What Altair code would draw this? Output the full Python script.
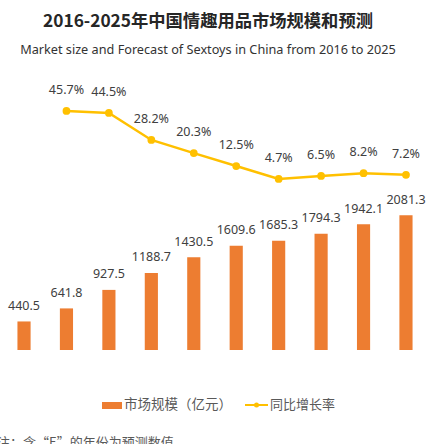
import altair as alt
import pandas as pd

# Market size (100 million yuan) and year-on-year growth (%)
years = ["2016", "2017", "2018", "2019", "2020", "2021", "2022", "2023E", "2024E", "2025E"]
market_size = [440.5, 641.8, 927.5, 1188.7, 1430.5, 1609.6, 1685.3, 1794.3, 1942.1, 2081.3]
growth_years = ["2017", "2018", "2019", "2020", "2021", "2022", "2023E", "2024E", "2025E"]
growth_rate = [45.7, 44.5, 28.2, 20.3, 12.5, 4.7, 6.5, 8.2, 7.2]

title_cn = "2016-2025年中国情趣用品市场规模和预测"
title_en = "Market size and Forecast of Sextoys in China from 2016 to 2025"
legend_bar = "市场规模（亿元）"
legend_line = "同比增长率"
footnote = "注：含“E”的年份为预测数值"

ORANGE = "#ED7D31"
GOLD = "#FFC000"
LABEL = "#595959"
CJK = "Noto Sans CJK SC"
LATIN = "Noto Sans"

bars_df = pd.DataFrame({
    "year": years,
    "size": market_size,
    "label": [f"{v:.1f}" for v in market_size],
})
line_df = pd.DataFrame({
    "year": growth_years,
    "rate": growth_rate,
    "label": [f"{v:.1f}%" for v in growth_rate],
})

x_scale = alt.Scale(domain=years, range=[2.8, 427.2], paddingInner=0.69, paddingOuter=0.345)
x_axis = alt.Axis(
    title=None, labelAngle=0, ticks=False, grid=False,
    domainColor="#D9D9D9", domainWidth=1,
    labelColor=LABEL, labelFont=LATIN, labelFontSize=12.5, labelPadding=14,
)
x_main = alt.X("year:N", scale=x_scale, sort=years, axis=x_axis)
x_plain = alt.X("year:N", scale=x_scale, sort=years, axis=None)

y_size = alt.Y("size:Q", scale=alt.Scale(domain=[0, 5401], nice=False, zero=True), axis=None)
y_rate = alt.Y("rate:Q", scale=alt.Scale(domain=[-98.3, 112.5], nice=False, zero=False), axis=None)

base_bars = alt.Chart(bars_df)
bars = base_bars.mark_bar(color=ORANGE).encode(x=x_main, y=y_size)
bar_labels = base_bars.mark_text(
    baseline="middle", dy=-15.5, font=LATIN, fontSize=12.5, color="#404040"
).encode(x=x_plain, y=y_size, text="label:N")

base_line = alt.Chart(line_df)
line = base_line.mark_line(color=GOLD, strokeWidth=2.5).encode(x=x_plain, y=y_rate)
points = base_line.mark_point(filled=True, size=60, color=GOLD, opacity=1).encode(x=x_plain, y=y_rate)
line_labels = base_line.mark_text(
    baseline="middle", dy=-21, font=LATIN, fontSize=12.5, color="#404040"
).encode(x=x_plain, y=y_rate, text="label:N")

one = alt.Data(values=[{}])


def text_at(txt, x, y, **kw):
    return alt.Chart(one).mark_text(text=txt, **kw).encode(x=alt.value(x), y=alt.value(y))


title1 = text_at(title_cn, 208, 22, font=CJK, fontSize=17.3, fontWeight="bold", color="#262626", baseline="middle")
title2 = text_at(title_en, 208, 50, font=LATIN, fontSize=12.7, color="#333333", baseline="middle")

legend_swatch = alt.Chart(one).mark_rect(color=ORANGE).encode(
    x=alt.value(102), x2=alt.value(122), y=alt.value(402), y2=alt.value(409)
)
legend_text1 = text_at(legend_bar, 124, 405, font=CJK, fontSize=13.5, color=LABEL, align="left", baseline="middle")
legend_rule = alt.Chart(one).mark_rule(color=GOLD, strokeWidth=2).encode(
    x=alt.value(245), x2=alt.value(268), y=alt.value(405)
)
legend_dot = alt.Chart(one).mark_point(filled=True, size=25, color=GOLD, opacity=1).encode(
    x=alt.value(256.5), y=alt.value(405)
)
legend_text2 = text_at(legend_line, 270, 405, font=CJK, fontSize=13, color=LABEL, align="left", baseline="middle")
note = text_at(footnote, -3, 437, font=CJK, fontSize=13, color=LABEL, align="left", baseline="top")

chart = alt.layer(
    bars, bar_labels, line, points, line_labels,
    title1, title2, legend_swatch, legend_text1, legend_rule, legend_dot, legend_text2, note,
).resolve_scale(y="independent").properties(
    width=431, height=350,
    padding={"left": 0, "top": 0, "right": 0, "bottom": 94},
    autosize="none",
    background="white",
).configure_view(stroke=None)

chart.save("out.html", embed_options={"renderer": "svg", "actions": False})
